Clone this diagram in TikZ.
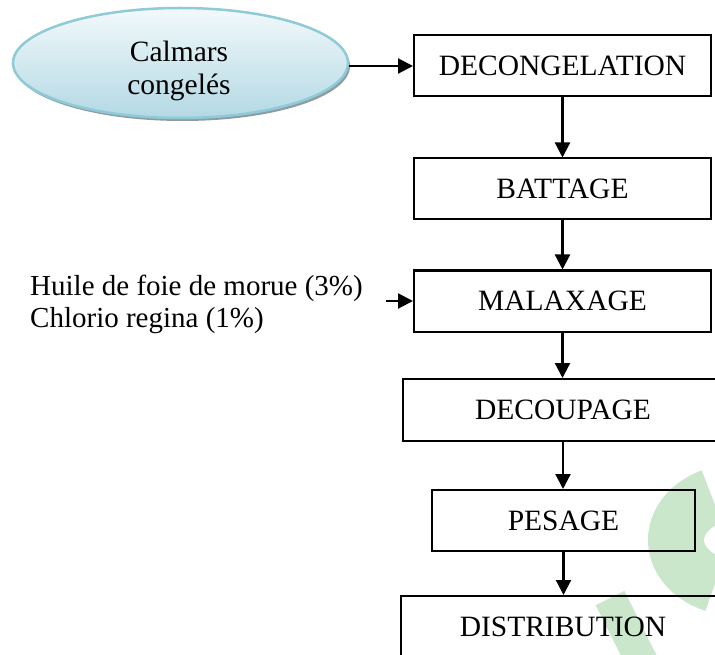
\documentclass[tikz,border=0pt]{standalone}
\usepackage{fontspec}
\setmainfont{Liberation Serif}
\usetikzlibrary{shapes.geometric,arrows.meta}
\definecolor{ellborder}{HTML}{8FCAD8}
\definecolor{elltop}{HTML}{F2F9FB}
\definecolor{ellbot}{HTML}{B3D9E4}
\definecolor{shadowgray}{HTML}{8E9CA2}
\definecolor{wmgreen}{HTML}{CBE7CB}
\begin{document}
\begin{tikzpicture}[x=1pt,y=-1pt,
  stepbox/.style={draw=black, line width=2pt, minimum height=61pt, inner sep=0pt,
    font=\fontsize{29.5}{31}\selectfont},
  flow/.style={-{Triangle[length=15pt,width=15pt]}, line width=2.2pt},
  txt/.style={inner sep=0pt, font=\fontsize{29.5}{33}\selectfont}]
\useasboundingbox (0,0) rectangle (715,655);
\clip (0,0) rectangle (715,655);
% watermark
\draw[wmgreen, line width=56pt] (738,540) ++(245:62 and 48) arc[start angle=245, end angle=112, x radius=62, y radius=48];
\draw[wmgreen, line width=32pt] (610,598) -- (642,662);
% source ellipse
\node[ellipse, fill=shadowgray, minimum width=335pt, minimum height=110pt, inner sep=0pt] (calshadow) at (182.5,66) {};
\node[ellipse, draw=ellborder, line width=2.5pt, top color=elltop, bottom color=ellbot,
  minimum width=335pt, minimum height=110pt, inner sep=0pt] (cal) at (180.5,63) {};
\node[txt, align=center] (caltxt) at (179,70.5) {Calmars\\congelés};
% steps
\node[stepbox, minimum width=297pt] (dec) at (562.5,66) {DECONGELATION};
\node[stepbox, minimum width=297pt] (bat) at (562.5,189) {BATTAGE};
\node[stepbox, minimum width=297pt] (mal) at (562.5,301) {MALAXAGE};
\node[stepbox, minimum width=320pt, minimum height=62pt] (dcp) at (563,410) {DECOUPAGE};
\node[stepbox, minimum width=263pt] (pes) at (563.5,520.5) {PESAGE};
\node[stepbox, minimum width=324pt, minimum height=62pt] (dis) at (563,627) {DISTRIBUTION};
% ingredients
\node[txt, align=left, anchor=west, font=\fontsize{29}{32}\selectfont] (ing) at (30,304)
  {Huile de foie de morue (3\%)\\Chlorio regina (1\%)};
\coordinate (ingstart) at (386,301);
% connectors
\draw[flow] (cal.east |- dec.west) -- (dec.west);
\draw[flow] (ingstart) -- (ingstart -| mal.west);
\draw[flow] (dec.south) -- (bat.north);
\draw[flow] (bat.south) -- (mal.north);
\draw[flow] (mal.south) -- (mal.south |- dcp.north);
\draw[flow] (dcp.south) -- (dcp.south |- pes.north);
\draw[flow] (pes.south) -- (pes.south |- dis.north);
\end{tikzpicture}
\end{document}
